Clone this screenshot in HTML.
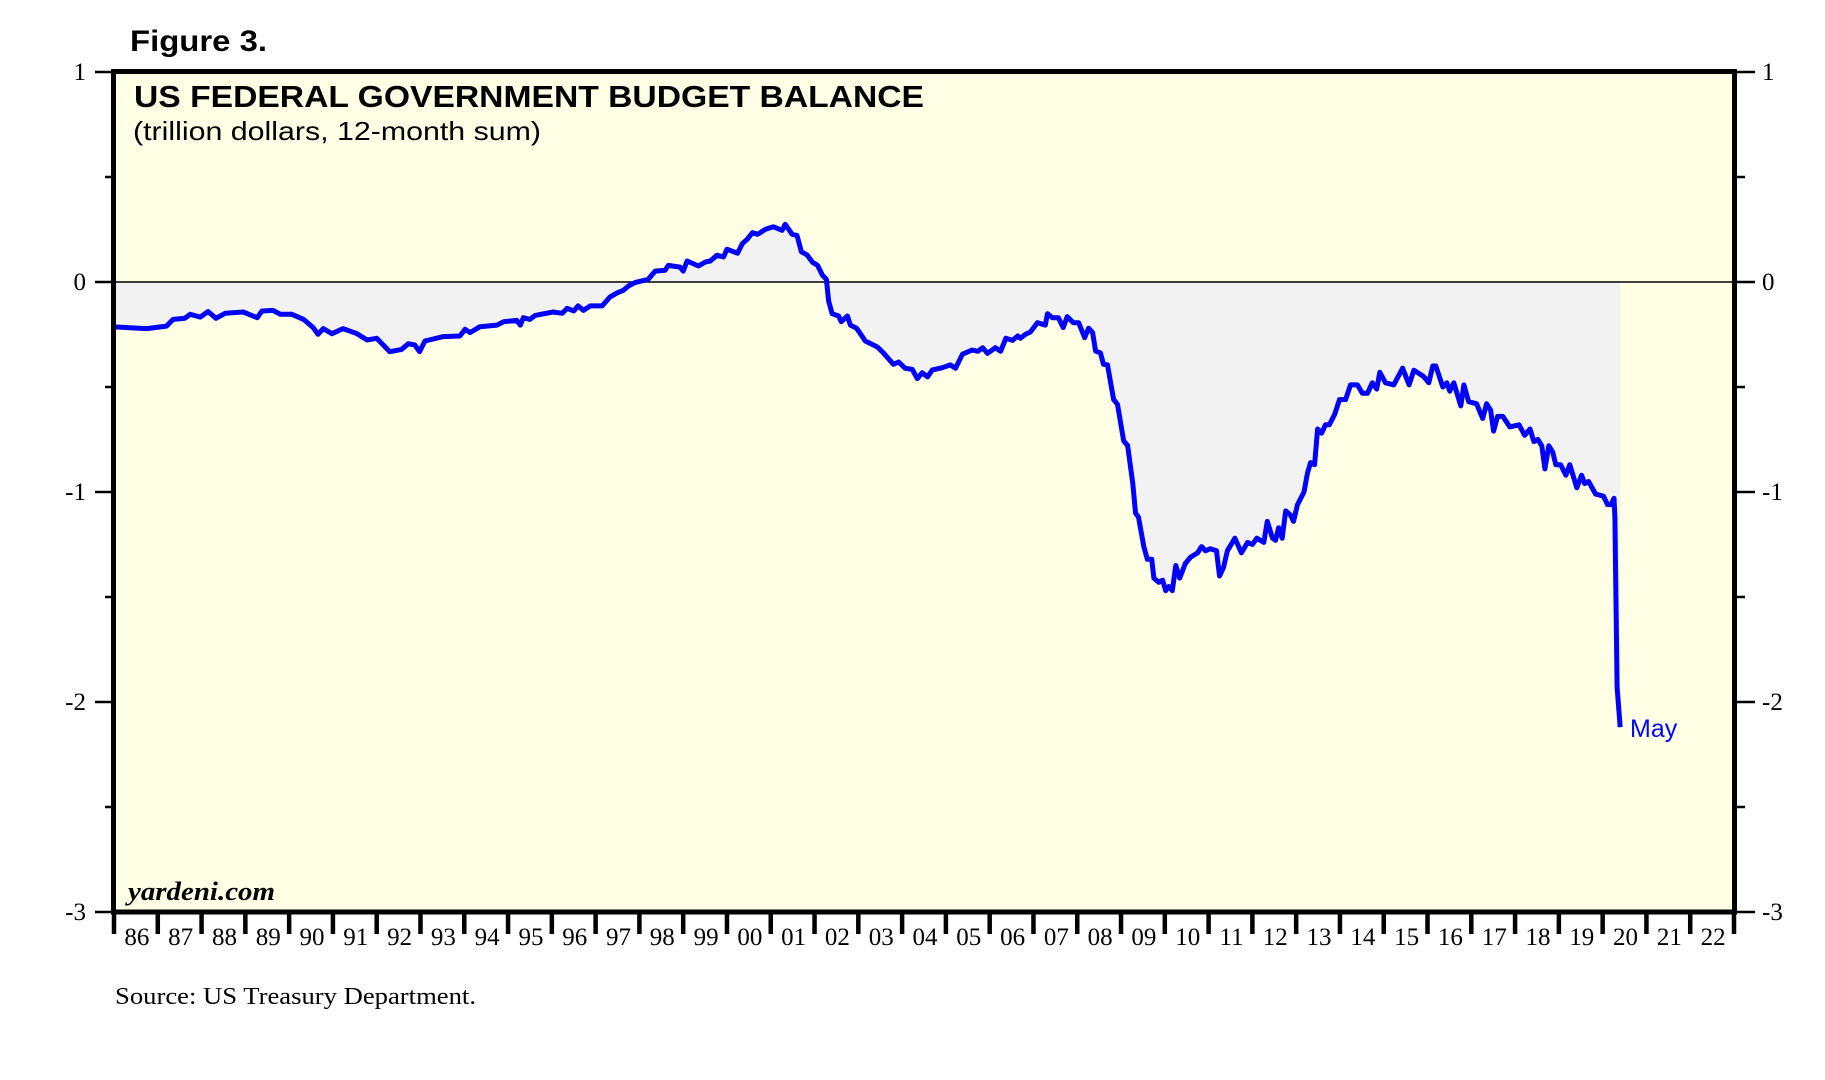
<!DOCTYPE html>
<html><head><meta charset="utf-8"><style>
html,body{margin:0;padding:0;background:#fff;}
svg{display:block;}
</style></head><body>
<svg id="chart" width="1825" height="1080" viewBox="0 0 1825 1080" xmlns="http://www.w3.org/2000/svg">
<text x="130" y="51" font-family="Liberation Sans, sans-serif" font-weight="bold" font-size="30" textLength="137" lengthAdjust="spacingAndGlyphs">Figure 3.</text>
<rect x="114" y="72" width="1620" height="840" fill="#ffffe6"/>
<g id="fillg"></g>
<line x1="114" y1="282" x2="1734" y2="282" stroke="#000" stroke-width="1.5"/>
<g id="lineg"></g>
<rect x="113.5" y="71.5" width="1621" height="840.5" fill="none" stroke="#000" stroke-width="5"/>
<g id="axes"></g>
<text x="134" y="107" font-family="Liberation Sans, sans-serif" font-weight="bold" font-size="31" textLength="790" lengthAdjust="spacingAndGlyphs">US FEDERAL GOVERNMENT BUDGET BALANCE</text>
<text x="133" y="140" font-family="Liberation Sans, sans-serif" font-size="26" textLength="408" lengthAdjust="spacingAndGlyphs">(trillion dollars, 12-month sum)</text>
<text x="128" y="900" font-family="Liberation Serif, serif" font-weight="bold" font-style="italic" font-size="26" textLength="147" lengthAdjust="spacingAndGlyphs">yardeni.com</text>
<text x="115" y="1004" font-family="Liberation Serif, serif" font-size="24" textLength="361" lengthAdjust="spacingAndGlyphs">Source: US Treasury Department.</text>
<text x="1630" y="737" font-family="Liberation Sans, sans-serif" font-size="25" fill="#0000ff">May</text>
</svg>
<script>
const dates=[1986.0,1986.75,1987.2,1987.35,1987.62,1987.74,1987.97,1988.15,1988.33,1988.54,1988.95,1989.27,1989.38,1989.63,1989.8,1990.06,1990.33,1990.55,1990.66,1990.78,1990.98,1991.23,1991.55,1991.78,1992.0,1992.3,1992.57,1992.72,1992.87,1992.98,1993.1,1993.52,1993.9,1994.02,1994.13,1994.36,1994.75,1994.9,1995.2,1995.28,1995.35,1995.5,1995.62,1996.03,1996.24,1996.35,1996.5,1996.6,1996.72,1996.88,1997.15,1997.33,1997.5,1997.63,1997.75,1997.9,1998.2,1998.36,1998.59,1998.66,1998.93,1999.0,1999.09,1999.35,1999.5,1999.62,1999.77,1999.92,2000.0,2000.24,2000.35,2000.46,2000.58,2000.7,2000.88,2001.06,2001.26,2001.33,2001.49,2001.6,2001.7,2001.83,2001.95,2002.07,2002.18,2002.27,2002.32,2002.4,2002.55,2002.61,2002.75,2002.82,2002.96,2003.16,2003.44,2003.57,2003.8,2003.92,2004.07,2004.23,2004.35,2004.46,2004.58,2004.69,2004.92,2005.1,2005.22,2005.38,2005.6,2005.73,2005.84,2005.95,2006.13,2006.25,2006.37,2006.52,2006.64,2006.7,2006.82,2006.93,2007.09,2007.27,2007.32,2007.43,2007.57,2007.68,2007.77,2007.91,2008.03,2008.17,2008.26,2008.35,2008.42,2008.53,2008.6,2008.69,2008.83,2008.92,2009.06,2009.15,2009.27,2009.33,2009.4,2009.52,2009.6,2009.7,2009.75,2009.86,2009.95,2010.02,2010.09,2010.17,2010.25,2010.34,2010.47,2010.59,2010.75,2010.84,2010.93,2011.04,2011.18,2011.25,2011.34,2011.43,2011.6,2011.75,2011.89,2012.0,2012.1,2012.26,2012.34,2012.46,2012.53,2012.6,2012.68,2012.76,2012.87,2012.94,2013.03,2013.18,2013.26,2013.33,2013.42,2013.49,2013.58,2013.67,2013.76,2013.88,2013.99,2014.13,2014.24,2014.4,2014.51,2014.63,2014.74,2014.84,2014.91,2015.04,2015.23,2015.43,2015.58,2015.69,2015.91,2016.03,2016.12,2016.19,2016.35,2016.44,2016.51,2016.6,2016.76,2016.83,2016.94,2017.12,2017.26,2017.35,2017.44,2017.51,2017.6,2017.72,2017.88,2018.09,2018.22,2018.34,2018.43,2018.52,2018.61,2018.68,2018.77,2018.86,2018.93,2019.04,2019.16,2019.25,2019.41,2019.52,2019.59,2019.68,2019.84,2020.02,2020.11,2020.19,2020.26,2020.28,2020.33,2020.4];
const balance=[-0.214,-0.222,-0.21,-0.178,-0.173,-0.154,-0.167,-0.141,-0.173,-0.149,-0.143,-0.17,-0.138,-0.135,-0.154,-0.154,-0.178,-0.217,-0.249,-0.222,-0.246,-0.222,-0.246,-0.276,-0.268,-0.332,-0.321,-0.294,-0.30,-0.332,-0.281,-0.26,-0.257,-0.225,-0.241,-0.213,-0.205,-0.189,-0.183,-0.205,-0.17,-0.178,-0.159,-0.143,-0.149,-0.125,-0.138,-0.114,-0.135,-0.114,-0.114,-0.071,-0.051,-0.04,-0.019,-0.003,0.013,0.052,0.056,0.079,0.071,0.052,0.1,0.076,0.095,0.1,0.127,0.119,0.156,0.137,0.183,0.203,0.235,0.227,0.251,0.263,0.246,0.275,0.227,0.222,0.144,0.129,0.095,0.079,0.033,0.013,-0.09,-0.151,-0.162,-0.189,-0.162,-0.205,-0.22,-0.281,-0.31,-0.337,-0.392,-0.381,-0.411,-0.416,-0.46,-0.432,-0.452,-0.419,-0.408,-0.395,-0.411,-0.344,-0.324,-0.33,-0.313,-0.34,-0.313,-0.33,-0.268,-0.278,-0.257,-0.268,-0.249,-0.238,-0.194,-0.205,-0.151,-0.17,-0.17,-0.217,-0.165,-0.194,-0.194,-0.265,-0.22,-0.241,-0.329,-0.337,-0.392,-0.395,-0.559,-0.583,-0.757,-0.778,-0.96,-1.1,-1.12,-1.26,-1.32,-1.32,-1.41,-1.43,-1.42,-1.47,-1.45,-1.47,-1.35,-1.41,-1.34,-1.31,-1.29,-1.26,-1.28,-1.27,-1.28,-1.40,-1.36,-1.28,-1.22,-1.29,-1.24,-1.25,-1.22,-1.24,-1.14,-1.22,-1.23,-1.17,-1.22,-1.09,-1.11,-1.14,-1.06,-1.0,-0.91,-0.86,-0.87,-0.70,-0.72,-0.68,-0.68,-0.63,-0.56,-0.56,-0.49,-0.49,-0.53,-0.53,-0.48,-0.51,-0.43,-0.48,-0.49,-0.41,-0.49,-0.42,-0.45,-0.48,-0.40,-0.40,-0.50,-0.48,-0.52,-0.48,-0.59,-0.49,-0.57,-0.58,-0.65,-0.58,-0.61,-0.71,-0.64,-0.64,-0.69,-0.68,-0.73,-0.70,-0.76,-0.75,-0.78,-0.89,-0.78,-0.81,-0.87,-0.87,-0.92,-0.87,-0.98,-0.92,-0.96,-0.95,-1.01,-1.02,-1.06,-1.06,-1.03,-1.12,-1.93,-2.12];
const yTicks=[1,0,-1,-2,-3];
const yTickLabels=["1","0","-1","-2","-3"];
const xYears=[86,87,88,89,90,91,92,93,94,95,96,97,98,99,"00","01","02","03","04","05","06","07","08","09",10,11,12,13,14,15,16,17,18,19,20,21,22];

const NS="http://www.w3.org/2000/svg";
const X0=114,X1=1734,Y0=72,Y1=912,YEAR0=1986,YEARN=37,VMAX=1,VMIN=-3;
function xScale(y){return X0+(y-YEAR0)/YEARN*(X1-X0);}
function yScale(v){return Y0+(VMAX-v)/(VMAX-VMIN)*(Y1-Y0);}
function mk(tag,attrs,parent){const e=document.createElementNS(NS,tag);for(const k in attrs)e.setAttribute(k,attrs[k]);parent.appendChild(e);return e;}

const fillg=document.getElementById('fillg'),lineg=document.getElementById('lineg'),axes=document.getElementById('axes');
let pts=dates.map((d,i)=>xScale(d).toFixed(1)+','+yScale(balance[i]).toFixed(1));
let fd='M'+xScale(dates[0]).toFixed(1)+','+yScale(0)+' L'+pts.join(' L')+' L'+xScale(dates[dates.length-1]).toFixed(1)+','+yScale(0)+' Z';
const fp=mk('path',{d:fd,fill:'#f2f2f2'},fillg);


const lp=mk('path',{d:'M'+pts.join(' L'),fill:'none',stroke:'#0000ff','stroke-width':5,'stroke-linejoin':'round'},lineg);



yTicks.forEach((v,i)=>{
  const y=yScale(v);
  const t1=mk('line',{x1:95,x2:114,y1:y,y2:y,stroke:'#000','stroke-width':2.5},axes);
  
  
  const t2=mk('line',{x1:1734,x2:1755,y1:y,y2:y,stroke:'#000','stroke-width':2.5},axes);
  
  
  const l1=mk('text',{x:86,y:y+8,'text-anchor':'end','font-family':'Liberation Serif, serif','font-size':25},axes);
  l1.textContent=yTickLabels[i];
  
  
  const l2=mk('text',{x:1762,y:y+8,'font-family':'Liberation Serif, serif','font-size':25},axes);
  l2.textContent=yTickLabels[i];
  
  
  if(i<yTicks.length-1){
    const ym=yScale(v-0.5);
    const m1=mk('line',{x1:105,x2:114,y1:ym,y2:ym,stroke:'#000','stroke-width':2.5},axes);
    
    
    const m2=mk('line',{x1:1734,x2:1745,y1:ym,y2:ym,stroke:'#000','stroke-width':2.5},axes);
    
    
  }
});
for(let i=0;i<=YEARN;i++){
  const x=xScale(YEAR0+i);
  const t=mk('line',{x1:x,x2:x,y1:912,y2:934,stroke:'#000','stroke-width':4.5},axes);
  
  
}
xYears.forEach((lab,i)=>{
  const t=mk('text',{x:xScale(YEAR0+i+0.5)+1,y:945,'text-anchor':'middle','font-family':'Liberation Serif, serif','font-size':25},axes);
  t.textContent=String(lab);
  
  
});
</script>
</body></html>
